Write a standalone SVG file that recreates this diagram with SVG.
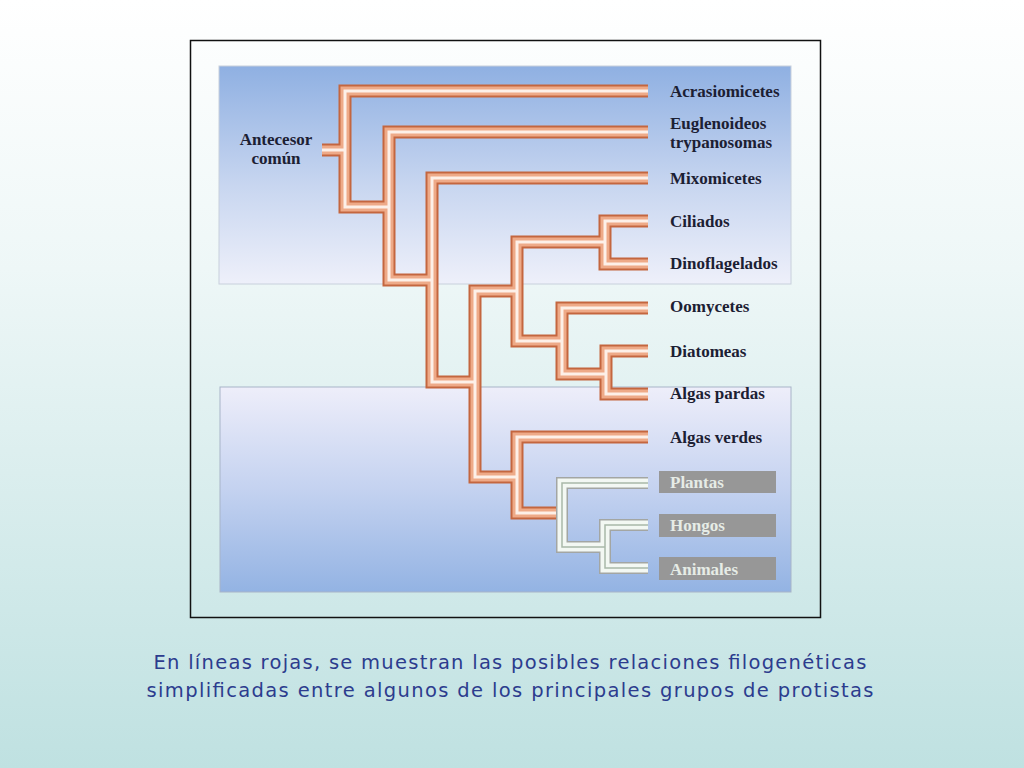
<svg xmlns="http://www.w3.org/2000/svg" xmlns:xlink="http://www.w3.org/1999/xlink" width="1024" height="768" viewBox="0 0 1024 768">
<defs>
<linearGradient id="bg" x1="0" y1="0" x2="0" y2="1">
<stop offset="0" stop-color="#ffffff"/>
<stop offset="0.35" stop-color="#eef7f7"/>
<stop offset="1" stop-color="#bfe1e1"/>
</linearGradient>
<linearGradient id="p1" x1="0" y1="0" x2="0" y2="1">
<stop offset="0" stop-color="#8fb0e2"/>
<stop offset="0.55" stop-color="#c8d6f0"/>
<stop offset="1" stop-color="#eef0fa"/>
</linearGradient>
<linearGradient id="p2" x1="0" y1="0" x2="0" y2="1">
<stop offset="0" stop-color="#eeeefa"/>
<stop offset="0.5" stop-color="#c4d2f0"/>
<stop offset="1" stop-color="#93b3e3"/>
</linearGradient>
<g id="redTree">
<path d="M322,150 H345"/>
<path d="M648,91 H345 V207 H389"/>
<path d="M648,132 H389 V280 H432"/>
<path d="M648,178 H432 V382 H475"/>
<path d="M517,291 H475 V477 H517"/>
<path d="M605,242 H517 V341 H562"/>
<path d="M648,221 H605 V264 H648"/>
<path d="M648,308 H562 V374 H606"/>
<path d="M648,351 H606 V394 H648"/>
<path d="M648,437 H517 V513 H562"/>
</g>
<g id="grayTree">
<path d="M648,483 H562 V547 H605"/>
<path d="M648,525 H605 V568 H648"/>
</g>
</defs>
<style>
.lbl{font-family:"Liberation Serif","Times New Roman",serif;font-weight:bold;font-size:17px;fill:#1c2033}
.glbl{font-family:"Liberation Serif","Times New Roman",serif;font-weight:bold;font-size:17px;fill:#e6ece6}
.cap{font-family:"DejaVu Sans",Verdana,sans-serif;font-size:19.5px;fill:#2c3c8e}
.box{fill:#979797}
.r1{fill:none;stroke:#c4663f;stroke-width:13;stroke-linejoin:miter;stroke-linecap:butt}
.r2{fill:none;stroke:#eeaa88;stroke-width:9;stroke-linejoin:miter}
.r3{fill:none;stroke:#fdf0e8;stroke-width:3;stroke-linejoin:miter}
.g1{fill:none;stroke:#a3a6a3;stroke-width:12;stroke-linejoin:miter}
.g2{fill:none;stroke:#f3f8f3;stroke-width:9;stroke-linejoin:miter}
.g3{fill:none;stroke:#a9b8a9;stroke-width:1.5;stroke-linejoin:miter}
</style>
<rect x="0" y="0" width="1024" height="768" fill="url(#bg)"/>
<rect x="190.5" y="40.5" width="630" height="577" fill="none" stroke="#111" stroke-width="1.5"/>
<rect x="219" y="66" width="572" height="218" fill="url(#p1)" stroke="#c8d0dc" stroke-width="1"/>
<rect x="220" y="387" width="571" height="205" fill="url(#p2)" stroke="#a8b4c8" stroke-width="1"/>
<g id="connectors">
<use xlink:href="#redTree" class="r1"/>
<use xlink:href="#redTree" class="r2"/>
<use xlink:href="#redTree" class="r3"/>
<use xlink:href="#grayTree" class="g1"/>
<use xlink:href="#grayTree" class="g2"/>
<use xlink:href="#grayTree" class="g3"/>
</g>
<g id="root"><text class="lbl" x="276" y="145" text-anchor="middle">Antecesor</text><text class="lbl" x="276" y="164" text-anchor="middle">común</text></g>
<g id="acrasiomicetes"><text class="lbl" x="670" y="97">Acrasiomicetes</text></g>
<g id="euglenoideos"><text class="lbl" x="670" y="129">Euglenoideos</text><text class="lbl" x="670" y="148">trypanosomas</text></g>
<g id="mixomicetes"><text class="lbl" x="670" y="184">Mixomicetes</text></g>
<g id="ciliados"><text class="lbl" x="670" y="227">Ciliados</text></g>
<g id="dinoflagelados"><text class="lbl" x="670" y="269">Dinoflagelados</text></g>
<g id="oomycetes"><text class="lbl" x="670" y="312">Oomycetes</text></g>
<g id="diatomeas"><text class="lbl" x="670" y="357">Diatomeas</text></g>
<g id="algas-pardas"><text class="lbl" x="670" y="399">Algas pardas</text></g>
<g id="algas-verdes"><text class="lbl" x="670" y="443">Algas verdes</text></g>
<g id="plantas"><rect class="box" x="659" y="471" width="117" height="22"/><text class="glbl" x="670" y="488">Plantas</text></g>
<g id="hongos"><rect class="box" x="659" y="514" width="117" height="23"/><text class="glbl" x="670" y="531">Hongos</text></g>
<g id="animales"><rect class="box" x="659" y="557" width="117" height="23"/><text class="glbl" x="670" y="575">Animales</text></g>
<g id="caption">
<text class="cap" x="510" y="669" text-anchor="middle" textLength="713" lengthAdjust="spacing">En líneas rojas, se muestran las posibles relaciones filogenéticas</text>
<text class="cap" x="510" y="697" text-anchor="middle" textLength="727" lengthAdjust="spacing">simplificadas entre algunos de los principales grupos de protistas</text>
</g>
</svg>
